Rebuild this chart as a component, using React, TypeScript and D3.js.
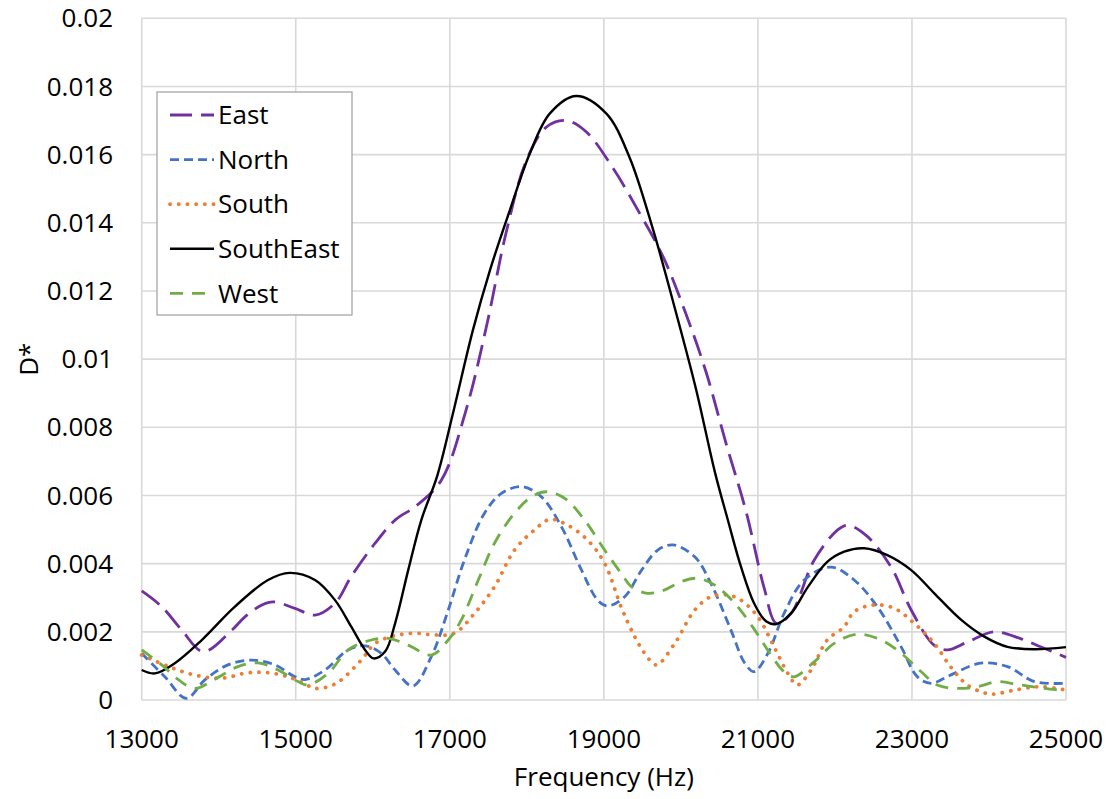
import React, { useEffect, useRef } from 'react';
import * as d3 from 'd3';

// [frequency (Hz), D*]
const east: [number, number][] = [
  [13000, 0.0032], [13260, 0.00274], [13520, 0.00205], [13800, 0.00142], [14170, 0.00205],
  [14340, 0.00244], [14560, 0.00279], [14710, 0.00288], [14990, 0.00269], [15250, 0.00249],
  [15510, 0.00284], [15720, 0.00362], [16030, 0.0046], [16300, 0.0053], [16550, 0.00567],
  [16890, 0.00645], [17210, 0.0085], [17480, 0.011], [17730, 0.0137], [17990, 0.0158],
  [18250, 0.0168], [18510, 0.017], [18770, 0.01667], [19120, 0.0156], [19460, 0.0143],
  [19770, 0.013], [20070, 0.0113], [20330, 0.0096], [20590, 0.0075], [20850, 0.0055],
  [21080, 0.0033], [21240, 0.00225], [21430, 0.00254], [21730, 0.0041], [22040, 0.005],
  [22170, 0.00513], [22420, 0.0048], [22730, 0.0039], [22990, 0.00264], [23290, 0.0016],
  [23460, 0.00147], [23720, 0.0017], [24070, 0.002], [24410, 0.0018], [24670, 0.00156],
  [25000, 0.00125],
];

const north: [number, number][] = [
  [13000, 0.00137], [13300, 0.00068], [13580, 0.00005], [13820, 0.00059], [14120, 0.00103],
  [14430, 0.00117], [14730, 0.00103], [14990, 0.00068], [15120, 0.0006], [15380, 0.00088],
  [15680, 0.00147], [15900, 0.00159], [16110, 0.00137], [16290, 0.00088], [16520, 0.00041],
  [16760, 0.00127], [16980, 0.00264], [17190, 0.00411], [17450, 0.00548], [17670, 0.00606],
  [17930, 0.00626], [18190, 0.00596], [18450, 0.00508], [18710, 0.00381], [18920, 0.00293],
  [19050, 0.00276], [19270, 0.00303], [19490, 0.00381], [19700, 0.0044], [19900, 0.00455],
  [20180, 0.0042], [20390, 0.00342], [20650, 0.00205], [20830, 0.00108], [20950, 0.00083],
  [21130, 0.00137], [21340, 0.00254], [21600, 0.00352], [21950, 0.0039], [22250, 0.00352],
  [22550, 0.00274], [22860, 0.00156], [23070, 0.00068], [23250, 0.00049], [23500, 0.00073],
  [23890, 0.00108], [24240, 0.00098], [24590, 0.00054], [25000, 0.00049],
];

const south: [number, number][] = [
  [13000, 0.00132], [13350, 0.00098], [13690, 0.00073], [14040, 0.00064], [14380, 0.0008],
  [14640, 0.0008], [14900, 0.00068], [15120, 0.00047], [15250, 0.00034], [15510, 0.00047],
  [15850, 0.00117], [16030, 0.00166], [16290, 0.00189], [16550, 0.00196], [16800, 0.00191],
  [17060, 0.00196], [17320, 0.00254], [17580, 0.00332], [17840, 0.0044], [18100, 0.00499],
  [18300, 0.0053], [18530, 0.00513], [18790, 0.00469], [19010, 0.00401], [19230, 0.0027],
  [19400, 0.00186], [19530, 0.00137], [19680, 0.00103], [19920, 0.00166], [20180, 0.00264],
  [20390, 0.00303], [20610, 0.00308], [20780, 0.00293], [21000, 0.00244], [21210, 0.00156],
  [21390, 0.00078], [21510, 0.00044], [21690, 0.00088], [21900, 0.00176], [22120, 0.00215],
  [22250, 0.00259], [22510, 0.00279], [22770, 0.00269], [23030, 0.00225], [23290, 0.00166],
  [23500, 0.00098], [23720, 0.00044], [23940, 0.00021], [24050, 0.00017], [24330, 0.00029],
  [24670, 0.00039], [25000, 0.00029],
];

const southEast: [number, number][] = [
  [13000, 0.00088], [13170, 0.00078], [13430, 0.00108], [13780, 0.00176], [14210, 0.00274],
  [14640, 0.00352], [14920, 0.00373], [15250, 0.00352], [15510, 0.00293], [15720, 0.00215],
  [15900, 0.00147], [16010, 0.00122], [16160, 0.00142], [16290, 0.00225], [16460, 0.00381],
  [16630, 0.00528], [16840, 0.0066], [17040, 0.0084], [17300, 0.01085], [17520, 0.0126],
  [17780, 0.01437], [18040, 0.01604], [18300, 0.01721], [18640, 0.01772], [19030, 0.01721],
  [19330, 0.01594], [19640, 0.01379], [19940, 0.01134], [20200, 0.00909], [20440, 0.0067],
  [20610, 0.00528], [20780, 0.00391], [20950, 0.00284], [21110, 0.0023], [21240, 0.00223],
  [21430, 0.00254], [21650, 0.00332], [21900, 0.00405], [22120, 0.00435], [22380, 0.00445],
  [22680, 0.00425], [22990, 0.00381], [23290, 0.00313], [23640, 0.00235], [23940, 0.00186],
  [24240, 0.00156], [24590, 0.00149], [25000, 0.00155],
];

const west: [number, number][] = [
  [13000, 0.00147], [13260, 0.00103], [13480, 0.00059], [13690, 0.00034], [13950, 0.00061],
  [14250, 0.00098], [14510, 0.00109], [14770, 0.00088], [15030, 0.00054], [15160, 0.00044],
  [15420, 0.00078], [15680, 0.00147], [15980, 0.00176], [16200, 0.00181], [16460, 0.00161],
  [16760, 0.00132], [16980, 0.00176], [17150, 0.00235], [17370, 0.00352], [17580, 0.0046],
  [17840, 0.00548], [18060, 0.00596], [18250, 0.00611], [18490, 0.00592], [18750, 0.00528],
  [19010, 0.0044], [19230, 0.0037], [19360, 0.00332], [19570, 0.00313], [19790, 0.00323],
  [20000, 0.00347], [20220, 0.00357], [20440, 0.00337], [20700, 0.00284], [20960, 0.00205],
  [21170, 0.00132], [21340, 0.00083], [21470, 0.00068], [21730, 0.00112], [21990, 0.00166],
  [22290, 0.00193], [22600, 0.00176], [22860, 0.00137], [23120, 0.00083], [23330, 0.00044],
  [23590, 0.00034], [23850, 0.00039], [24110, 0.00054], [24410, 0.00044], [24720, 0.00034],
  [25000, 0.00027],
];

const xTicks = [13000, 15000, 17000, 19000, 21000, 23000, 25000];
const yTicks = [0, 0.002, 0.004, 0.006, 0.008, 0.01, 0.012, 0.014, 0.016, 0.018, 0.02];
const yTickLabels = ['0', '0.002', '0.004', '0.006', '0.008', '0.01', '0.012', '0.014', '0.016', '0.018', '0.02'];

const series = [
  { name: 'East', data: east, color: '#7030A0', width: 2.8, dash: '22,9', cap: 'butt' },
  { name: 'North', data: north, color: '#4472C4', width: 2.8, dash: '9,5', cap: 'butt' },
  { name: 'South', data: south, color: '#ED7D31', width: 3.8, dash: '0.1,8.6', cap: 'round' },
  { name: 'SouthEast', data: southEast, color: '#000000', width: 2.4, dash: null, cap: 'butt' },
  { name: 'West', data: west, color: '#70AD47', width: 2.8, dash: '13,9', cap: 'butt' },
];

const W = 1118;
const H = 799;
const FONT = '"Open Sans", sans-serif';
const FS = '26px';

export default function App() {
  const svgRef = useRef<SVGSVGElement>(null);

  useEffect(() => {
    const svg = d3.select(svgRef.current);
    svg.selectAll('*').remove();

    const left = 141.7, right = 1066, top = 18.3, bottom = 700;

    const x = d3.scaleLinear().domain([13000, 25000]).range([left, right]);
    const y = d3.scaleLinear().domain([0, 0.02]).range([bottom, top]);

    svg.append('rect').attr('width', W).attr('height', H).attr('fill', '#fff');

    // grid
    const grid = svg.append('g').attr('stroke', '#d9d9d9').attr('stroke-width', 1.6);
    grid.selectAll('.gy').data(yTicks).enter().append('line')
      .attr('x1', left).attr('x2', right)
      .attr('y1', d => y(d)).attr('y2', d => y(d));
    grid.selectAll('.gx').data(xTicks).enter().append('line')
      .attr('y1', top).attr('y2', bottom)
      .attr('x1', d => x(d)).attr('x2', d => x(d));

    // tick labels
    svg.append('g').selectAll('text').data(yTicks).enter().append('text')
      .attr('x', 113).attr('y', d => y(d)).attr('dy', '0.35em')
      .attr('text-anchor', 'end')
      .style('font-family', FONT).style('font-size', FS).style('fill', '#000')
      .text((d, i) => yTickLabels[i]);

    svg.append('g').selectAll('text').data(xTicks).enter().append('text')
      .attr('x', d => x(d)).attr('y', 748)
      .attr('text-anchor', 'middle')
      .style('font-family', FONT).style('font-size', FS).style('fill', '#000')
      .text(d => String(d));

    // axis titles
    svg.append('text')
      .attr('x', (left + right) / 2).attr('y', 786)
      .attr('text-anchor', 'middle')
      .style('font-family', FONT).style('font-size', FS)
      .text('Frequency (Hz)');

    svg.append('text')
      .attr('transform', `translate(38,${(top + bottom) / 2}) rotate(-90)`)
      .attr('text-anchor', 'middle')
      .style('font-family', FONT).style('font-size', FS)
      .text('D*');

    // lines (smoothed like the source spreadsheet chart)
    const line = d3.line<[number, number]>()
      .x(d => x(d[0]))
      .y(d => y(d[1]))
      .curve(d3.curveCatmullRom.alpha(0.5));

    series.forEach(s => {
      svg.append('path')
        .datum(s.data)
        .attr('d', line)
        .attr('fill', 'none')
        .attr('stroke', s.color)
        .attr('stroke-width', s.width)
        .attr('stroke-dasharray', s.dash)
        .attr('stroke-linecap', s.cap)
        .attr('stroke-linejoin', 'round');
    });

    // legend
    const legend = svg.append('g');
    legend.append('rect')
      .attr('x', 157).attr('y', 92).attr('width', 195).attr('height', 223)
      .attr('fill', '#fff').attr('stroke', '#a6a6a6').attr('stroke-width', 1.3);

    const rows = legend.selectAll('.row').data(series).enter().append('g')
      .attr('transform', (d, i) => `translate(0,${115 + i * 44.6})`);

    rows.append('line')
      .attr('x1', 170).attr('x2', 214).attr('y1', 0).attr('y2', 0)
      .attr('stroke', d => d.color)
      .attr('stroke-width', d => d.width)
      .attr('stroke-dasharray', d => d.dash)
      .attr('stroke-linecap', d => d.cap);

    rows.append('text')
      .attr('x', 218).attr('y', 0).attr('dy', '0.35em')
      .style('font-family', FONT).style('font-size', FS).style('fill', '#000')
      .text(d => d.name);
  }, []);

  return (
    <svg
      ref={svgRef}
      width={W}
      height={H}
      style={{ position: 'fixed', left: 0, top: 0, background: 'white' }}
    />
  );
}
